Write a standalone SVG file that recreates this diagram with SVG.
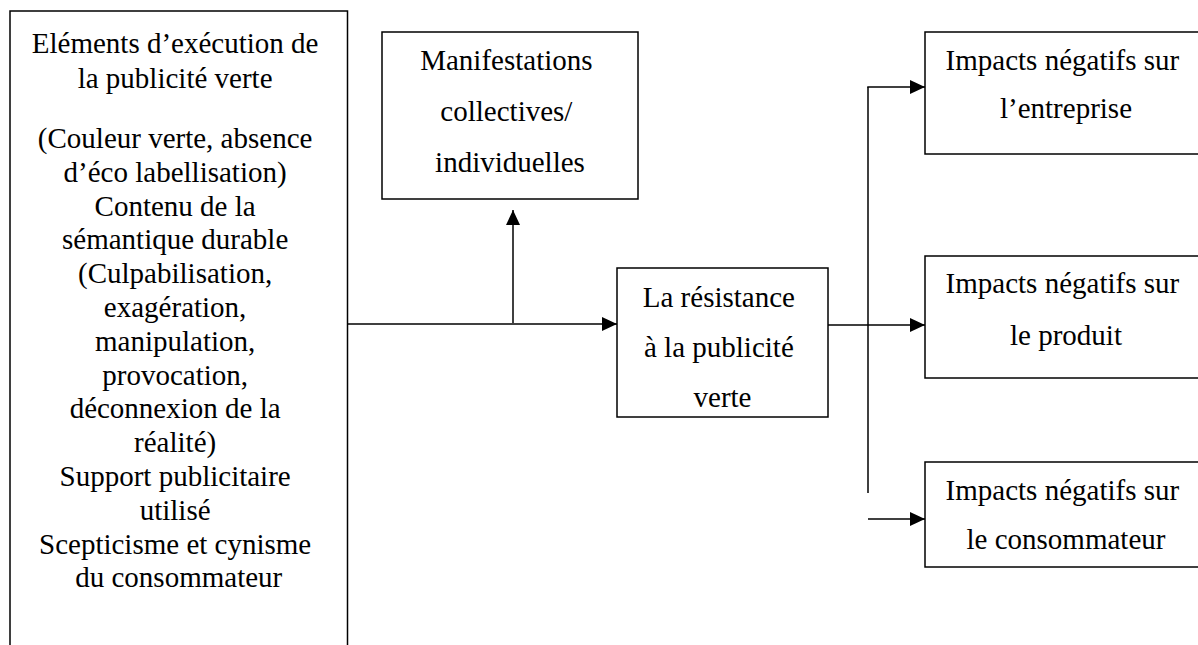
<svg xmlns="http://www.w3.org/2000/svg" width="1198" height="645" viewBox="0 0 1198 645">
<style>
.box{fill:#fff;stroke:#000;stroke-width:1.5}
text{font-family:'Liberation Serif','Times New Roman',serif;font-size:29px;fill:#000;text-anchor:middle}
.c{fill:none;stroke:#000;stroke-width:1.5}
</style>
<defs>
<marker id="ah" markerUnits="userSpaceOnUse" markerWidth="15" markerHeight="14" refX="15" refY="7" orient="auto">
<path d="M0,0 L15,7 L0,14 Z" fill="#000"/>
</marker>
</defs>
<rect width="1198" height="645" fill="#fff"/>
<g id="connectors">
<line class="c" x1="347.5" y1="324" x2="617" y2="324" marker-end="url(#ah)"/>
<line class="c" x1="513" y1="323" x2="513" y2="210" marker-end="url(#ah)"/>
<line class="c" x1="828" y1="325" x2="925" y2="325" marker-end="url(#ah)"/>
<line class="c" x1="868" y1="87" x2="868" y2="493"/>
<line class="c" x1="867.25" y1="87" x2="925" y2="87" marker-end="url(#ah)"/>
<line class="c" x1="868" y1="519" x2="925" y2="519" marker-end="url(#ah)"/>
</g>
<g id="elements">
<rect class="box" x="10" y="11" width="337.5" height="660"/>
<text font-family="Liberation Serif, serif">
<tspan x="178.75" y="53">Eléments d’exécution de</tspan>
<tspan x="178.75" y="88">la publicité verte</tspan>
<tspan x="178.75" y="148">(Couleur verte, absence</tspan>
<tspan x="178.75" y="181.8">d’éco labellisation)</tspan>
<tspan x="178.75" y="215.6">Contenu de la</tspan>
<tspan x="178.75" y="249.4">sémantique durable</tspan>
<tspan x="178.75" y="283.2">(Culpabilisation,</tspan>
<tspan x="178.75" y="317">exagération,</tspan>
<tspan x="178.75" y="350.8">manipulation,</tspan>
<tspan x="178.75" y="384.6">provocation,</tspan>
<tspan x="178.75" y="418.4">déconnexion de la</tspan>
<tspan x="178.75" y="452.2">réalité)</tspan>
<tspan x="178.75" y="486">Support publicitaire</tspan>
<tspan x="178.75" y="519.8">utilisé</tspan>
<tspan x="178.75" y="553.6">Scepticisme et cynisme</tspan>
<tspan x="178.75" y="587.4">du consommateur</tspan>
</text>
</g>
<g id="manifestations">
<rect class="box" x="382" y="32" width="256" height="167"/>
<text font-family="Liberation Serif, serif">
<tspan x="510" y="70">Manifestations</tspan>
<tspan x="510" y="121">collectives/</tspan>
<tspan x="510" y="172">individuelles</tspan>
</text>
</g>
<g id="resistance">
<rect class="box" x="617" y="268" width="211" height="149"/>
<text font-family="Liberation Serif, serif">
<tspan x="722.5" y="307">La résistance</tspan>
<tspan x="722.5" y="357">à la publicité</tspan>
<tspan x="722.5" y="407">verte</tspan>
</text>
</g>
<g id="impact-entreprise">
<rect class="box" x="925" y="32" width="290" height="122"/>
<text font-family="Liberation Serif, serif">
<tspan x="1066" y="70">Impacts négatifs sur</tspan>
<tspan x="1066" y="118">l’entreprise</tspan>
</text>
</g>
<g id="impact-produit">
<rect class="box" x="925" y="256" width="290" height="122"/>
<text font-family="Liberation Serif, serif">
<tspan x="1066" y="293">Impacts négatifs sur</tspan>
<tspan x="1066" y="345">le produit</tspan>
</text>
</g>
<g id="impact-consommateur">
<rect class="box" x="925" y="462" width="290" height="105"/>
<text font-family="Liberation Serif, serif">
<tspan x="1066" y="500">Impacts négatifs sur</tspan>
<tspan x="1066" y="549">le consommateur</tspan>
</text>
</g>
</svg>
